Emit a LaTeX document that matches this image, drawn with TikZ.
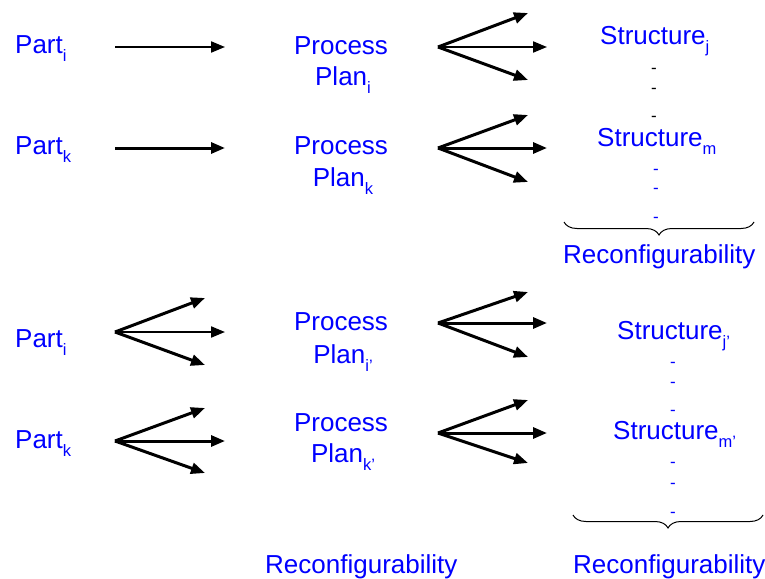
\documentclass[tikz,border=0pt]{standalone}
\usepackage{fontspec}
\setmainfont{Liberation Sans}
\usetikzlibrary{arrows.meta,decorations.pathreplacing}
\newcommand\mysb[1]{\raisebox{-8pt}{\fontsize{16.5}{16.5}\selectfont #1}}
\begin{document}
\begin{tikzpicture}[x=1pt,y=-1pt,
  lbl/.style={inner sep=0pt, text=blue, font=\fontsize{26}{30}\selectfont},
  dsh/.style={inner sep=0pt, font=\fontsize{17}{17}\selectfont},
  arr/.style={-{Triangle[length=14pt,width=11pt]}, line width=2.1pt},
  thk/.style={line width=3pt},
  brc/.style={decorate, decoration={brace, mirror, amplitude=13pt}, line width=1pt}
]
\useasboundingbox (0,0) rectangle (765,578);

% ---------- top half ----------
\node[lbl,anchor=base west] (pi1) at (15,54) {Part\mysb{i}};
\node[lbl,anchor=base west] (pk1) at (15,154) {Part\mysb{k}};
\node[lbl,anchor=base] (pp1) at (341,55) {Process};
\node[lbl,anchor=base] (pl1) at (343,85) {Plan\mysb{i}};
\node[lbl,anchor=base] (pp2) at (341,154) {Process};
\node[lbl,anchor=base] (pl2) at (343,186) {Plan\mysb{k}};

\coordinate (a1s) at (115,47); \coordinate (a1e) at (225,47);
\coordinate (a2s) at (115,148); \coordinate (a2e) at (225,148);
\draw[arr] (a1s) -- (a1e);
\draw[arr,thk] (a2s) -- (a2e);

\coordinate (f1) at (438,47);
\coordinate (f1u) at (528,13); \coordinate (f1m) at (547,47); \coordinate (f1d) at (528,80);
\draw[arr,thk] (f1) -- (f1u);
\draw[arr] (f1) -- (f1m);
\draw[arr,thk] (f1) -- (f1d);

\coordinate (f2) at (438,148);
\coordinate (f2u) at (528,115); \coordinate (f2m) at (547,148); \coordinate (f2d) at (528,182);
\draw[arr,thk] (f2) -- (f2u);
\draw[arr,thk] (f2) -- (f2m);
\draw[arr,thk] (f2) -- (f2d);

\node[lbl,anchor=base west] (sj) at (600,45) {Structure\mysb{j}};
\node[lbl,anchor=base west] (sm) at (597,146) {Structure\mysb{m}};
\node[dsh] (d1) at (654,71) {-};
\node[dsh] (d2) at (654,91) {-};
\node[dsh] (d3) at (654,119) {-};
\node[dsh,text=blue] (d4) at (656,172) {-};
\node[dsh,text=blue] (d5) at (656,191) {-};
\node[dsh,text=blue] (d6) at (656,220) {-};
\coordinate (b1l) at (564,222); \coordinate (b1r) at (754,222);
\draw[brc] (b1l) -- (b1r);
\node[lbl,anchor=base west] (rc1) at (563,263) {Reconfigurability};

% ---------- bottom half ----------
\node[lbl,anchor=base west] (pi2) at (15,347) {Part\mysb{i}};
\node[lbl,anchor=base west] (pk2) at (15,448) {Part\mysb{k}};

\coordinate (g1) at (115,332);
\coordinate (g1u) at (205,298); \coordinate (g1m) at (225,332); \coordinate (g1d) at (205,365);
\draw[arr,thk] (g1) -- (g1u);
\draw[arr] (g1) -- (g1m);
\draw[arr,thk] (g1) -- (g1d);

\coordinate (g2) at (115,441);
\coordinate (g2u) at (205,408); \coordinate (g2m) at (225,441); \coordinate (g2d) at (205,473);
\draw[arr,thk] (g2) -- (g2u);
\draw[arr,thk] (g2) -- (g2m);
\draw[arr,thk] (g2) -- (g2d);

\node[lbl,anchor=base] (pp3) at (341,330) {Process};
\node[lbl,anchor=base] (pl3) at (343,363) {Plan\mysb{i’}};
\node[lbl,anchor=base] (pp4) at (341,431) {Process};
\node[lbl,anchor=base] (pl4) at (343,462) {Plan\mysb{k’}};

\coordinate (h1) at (438,323);
\coordinate (h1u) at (528,292); \coordinate (h1m) at (547,323); \coordinate (h1d) at (528,357);
\draw[arr,thk] (h1) -- (h1u);
\draw[arr,thk] (h1) -- (h1m);
\draw[arr,thk] (h1) -- (h1d);

\coordinate (h2) at (438,433);
\coordinate (h2u) at (528,400); \coordinate (h2m) at (547,433); \coordinate (h2d) at (528,463);
\draw[arr,thk] (h2) -- (h2u);
\draw[arr,thk] (h2) -- (h2m);
\draw[arr,thk] (h2) -- (h2d);

\node[lbl,anchor=base west] (sj2) at (617,339) {Structure\mysb{j’}};
\node[lbl,anchor=base west] (sm2) at (613,439) {Structure\mysb{m’}};
\node[dsh,text=blue] (e1) at (673,365) {-};
\node[dsh,text=blue] (e2) at (673,385) {-};
\node[dsh,text=blue] (e3) at (673,413) {-};
\node[dsh,text=blue] (e4) at (673,465) {-};
\node[dsh,text=blue] (e5) at (673,486) {-};
\node[dsh,text=blue] (e6) at (673,515) {-};
\coordinate (b2l) at (573,515); \coordinate (b2r) at (763,515);
\draw[brc] (b2l) -- (b2r);
\node[lbl,anchor=base west] (rc2) at (573,573) {Reconfigurability};
\node[lbl,anchor=base west] (rc3) at (265,573) {Reconfigurability};
\end{tikzpicture}
\end{document}
